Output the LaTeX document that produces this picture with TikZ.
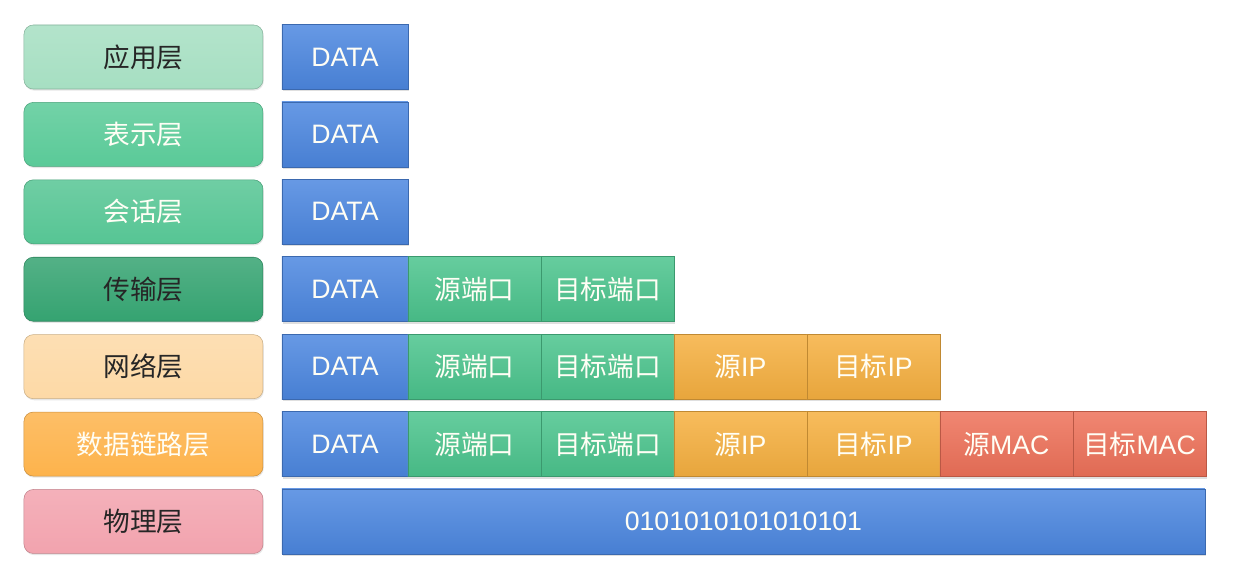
\documentclass[tikz,border=0pt]{standalone}
\usepackage{fontspec}
\setmainfont{Liberation Sans}
\newfontfamily\cjk{Noto Sans CJK SC}
\usetikzlibrary{positioning}
\usetikzlibrary{shadows}
\definecolor{appgreen}{HTML}{A6DFC2}
\definecolor{pregreen}{HTML}{5ACA98}
\definecolor{sesgreen}{HTML}{56C594}
\definecolor{tragreen}{HTML}{35A371}
\definecolor{netpeach}{HTML}{FDD9A6}
\definecolor{lnkorange}{HTML}{FDB34C}
\definecolor{phypink}{HTML}{F2A3AE}
\definecolor{datablue}{HTML}{4C87E0}
\definecolor{portgreen}{HTML}{4BC48D}
\definecolor{iporange}{HTML}{F6B040}
\definecolor{macred}{HTML}{EE7159}
\tikzset{
	every node/.style = {font=\fontsize{20}{24}\selectfont}
}
\tikzset{
	layer/.style = {rounded corners=7pt, minimum width=179.25pt, minimum height=48pt, inner sep=0pt, outer sep=0pt,
		draw=#1!80!black, line width=0.4pt, top color=#1!85!white, bottom color=#1,
		drop shadow={shadow xshift=0.6pt, shadow yshift=-1.2pt, opacity=0.2},
		font=\cjk\fontsize{20}{24}\selectfont},
	cell/.style = {minimum width=99.75pt, minimum height=48.75pt, inner sep=0pt, outer sep=0pt, text=white!96!yellow,
		draw=#1!78!black, line width=0.5pt, top color=#1!85!white, bottom color=#1!94!black,
		drop shadow={shadow xshift=0.8pt, shadow yshift=-1.5pt, opacity=0.25}}
}
\begin{document}
\begin{tikzpicture}[x=1pt,y=-1pt]
	\useasboundingbox (0,0) rectangle (936.75,427.5);
	\def\rowgap{58.06}                          % distance between two layers

	% The seven layers on the left
	\foreach \name/\txt/\col/\tcol [count=\i from 0] in {
		app/应用层/appgreen/black!85,
		pre/表示层/pregreen/white!96!yellow,
		ses/会话层/sesgreen/white!96!yellow,
		tra/传输层/tragreen/black!85,
		net/网络层/netpeach/black!85,
		lnk/数据链路层/lnkorange/white!96!yellow,
		phy/物理层/phypink/black!85}{
		\node[layer=\col, text=\tcol] (\name) at (107.6, 42.75+\rowgap*\i) {\txt};
	}

	% The data part is the same in every layer above the physical one
	\foreach \name in {app,pre,ses,tra,net,lnk}{
		\node[cell=datablue, minimum width=94.5pt, right=14.25pt of \name] (\name-data) {DATA};
	}

	% Transport layer adds the ports
	\node[cell=portgreen, right=0pt of tra-data] (tra-sport) {\cjk 源端口};
	\node[cell=portgreen, right=0pt of tra-sport] (tra-dport) {\cjk 目标端口};

	% Network layer adds the IP addresses
	\node[cell=portgreen, right=0pt of net-data] (net-sport) {\cjk 源端口};
	\node[cell=portgreen, right=0pt of net-sport] (net-dport) {\cjk 目标端口};
	\node[cell=iporange, right=0pt of net-dport] (net-sip) {{\cjk 源}IP};
	\node[cell=iporange, right=0pt of net-sip] (net-dip) {{\cjk 目标}IP};

	% Data link layer adds the MAC addresses
	\node[cell=portgreen, right=0pt of lnk-data] (lnk-sport) {\cjk 源端口};
	\node[cell=portgreen, right=0pt of lnk-sport] (lnk-dport) {\cjk 目标端口};
	\node[cell=iporange, right=0pt of lnk-dport] (lnk-sip) {{\cjk 源}IP};
	\node[cell=iporange, right=0pt of lnk-sip] (lnk-dip) {{\cjk 目标}IP};
	\node[cell=macred, right=0pt of lnk-dip] (lnk-smac) {{\cjk 源}MAC};
	\node[cell=macred, right=0pt of lnk-smac] (lnk-dmac) {{\cjk 目标}MAC};

	% Physical layer only carries bits
	\node[cell=datablue, minimum width=692.25pt, right=14.25pt of phy] (phy-bits) {0101010101010101};
\end{tikzpicture}
\end{document}
